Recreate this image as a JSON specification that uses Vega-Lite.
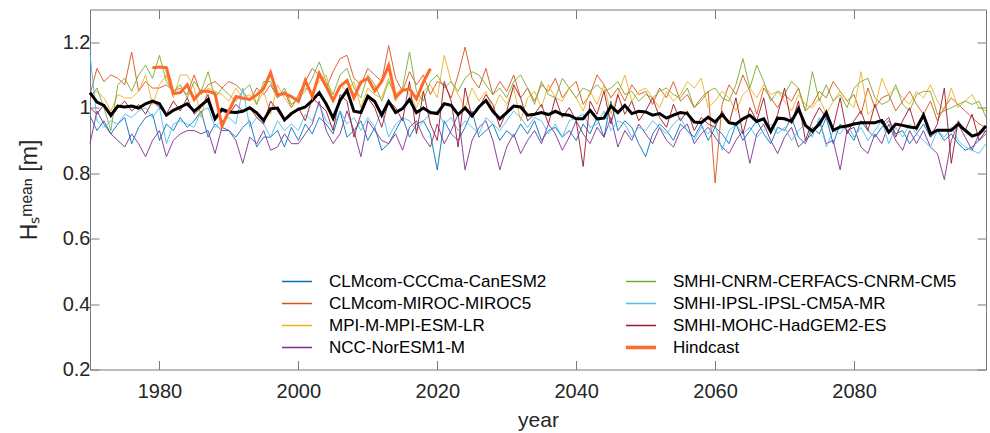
{
  "$schema": "https://vega.github.io/schema/vega-lite/v6.json",
  "width": 896,
  "height": 360,
  "autosize": "none",
  "padding": {"left": 90, "top": 9.5, "right": 4, "bottom": 63.5},
  "background": "white",
  "config": {
    "view": {"stroke": null},
    "font": "Liberation Sans",
    "axis": {"labelFont": "Liberation Sans", "titleFont": "Liberation Sans", "labelColor": "#262626", "titleColor": "#262626", "domainColor": "#7a7a7a", "tickColor": "#7a7a7a", "grid": false, "titleFontWeight": "normal"}
  },
  "data": {"values": [
{"year":1970,"can":0.975,"miroc":1.04,"mpi":1.04,"nor":0.89,"cnrm":1.03,"ipsl":1.165,"mohc":1.00,"mean":1.046},
{"year":1971,"can":0.93,"miroc":1.12,"mpi":1.05,"nor":0.99,"cnrm":1.06,"ipsl":0.96,"mohc":0.98,"mean":1.017},
{"year":1972,"can":0.96,"miroc":1.08,"mpi":1.03,"nor":0.95,"cnrm":1.00,"ipsl":0.94,"mohc":1.01,"mean":1.007},
{"year":1973,"can":0.92,"miroc":1.10,"mpi":0.99,"nor":0.92,"cnrm":0.93,"ipsl":0.96,"mohc":0.97,"mean":0.977},
{"year":1974,"can":0.95,"miroc":1.09,"mpi":1.04,"nor":0.90,"cnrm":1.07,"ipsl":0.95,"mohc":1.00,"mean":1.005},
{"year":1975,"can":0.97,"miroc":1.07,"mpi":1.03,"nor":0.88,"cnrm":1.09,"ipsl":0.98,"mohc":1.02,"mean":1.002},
{"year":1976,"can":0.89,"miroc":1.17,"mpi":1.03,"nor":0.92,"cnrm":1.05,"ipsl":0.97,"mohc":0.99,"mean":1.005},
{"year":1977,"can":0.94,"miroc":1.05,"mpi":1.05,"nor":0.89,"cnrm":1.10,"ipsl":0.99,"mohc":1.01,"mean":0.999},
{"year":1978,"can":0.97,"miroc":1.08,"mpi":1.10,"nor":0.85,"cnrm":1.13,"ipsl":1.00,"mohc":0.98,"mean":1.012},
{"year":1979,"can":0.98,"miroc":1.06,"mpi":1.01,"nor":0.90,"cnrm":1.09,"ipsl":0.97,"mohc":1.02,"mean":1.020,"hind":1.122},
{"year":1980,"can":0.90,"miroc":1.06,"mpi":1.07,"nor":0.93,"cnrm":1.16,"ipsl":1.00,"mohc":1.00,"mean":1.012,"hind":1.124},
{"year":1981,"can":0.95,"miroc":1.07,"mpi":1.10,"nor":0.85,"cnrm":1.08,"ipsl":0.89,"mohc":0.98,"mean":0.977,"hind":1.122},
{"year":1982,"can":0.93,"miroc":1.05,"mpi":1.03,"nor":0.90,"cnrm":1.05,"ipsl":0.95,"mohc":1.02,"mean":0.992,"hind":1.043},
{"year":1983,"can":0.97,"miroc":1.06,"mpi":1.10,"nor":0.92,"cnrm":1.07,"ipsl":0.96,"mohc":0.99,"mean":1.002,"hind":1.046},
{"year":1984,"can":0.94,"miroc":1.04,"mpi":1.10,"nor":0.93,"cnrm":1.03,"ipsl":0.95,"mohc":1.03,"mean":1.012,"hind":1.07},
{"year":1985,"can":0.96,"miroc":1.10,"mpi":1.06,"nor":0.93,"cnrm":1.08,"ipsl":0.94,"mohc":0.98,"mean":0.989,"hind":1.025},
{"year":1986,"can":0.99,"miroc":1.04,"mpi":0.97,"nor":0.92,"cnrm":1.05,"ipsl":0.99,"mohc":1.00,"mean":1.007,"hind":1.05},
{"year":1987,"can":0.91,"miroc":1.07,"mpi":1.06,"nor":0.93,"cnrm":1.11,"ipsl":1.00,"mohc":1.04,"mean":1.025,"hind":1.05},
{"year":1988,"can":0.95,"miroc":1.08,"mpi":1.05,"nor":0.86,"cnrm":1.03,"ipsl":0.94,"mohc":0.97,"mean":0.966,"hind":1.043},
{"year":1989,"can":0.93,"miroc":1.06,"mpi":1.04,"nor":0.94,"cnrm":1.06,"ipsl":0.96,"mohc":0.99,"mean":0.995,"hind":0.944},
{"year":1990,"can":0.93,"miroc":1.08,"mpi":1.02,"nor":0.93,"cnrm":1.04,"ipsl":0.97,"mohc":0.98,"mean":0.987,"hind":0.99},
{"year":1991,"can":0.91,"miroc":1.07,"mpi":1.06,"nor":0.90,"cnrm":1.02,"ipsl":0.95,"mohc":1.01,"mean":0.985,"hind":1.034},
{"year":1992,"can":0.94,"miroc":1.05,"mpi":1.03,"nor":0.83,"cnrm":1.05,"ipsl":1.06,"mohc":0.99,"mean":0.989,"hind":1.029},
{"year":1993,"can":0.96,"miroc":1.02,"mpi":1.04,"nor":0.91,"cnrm":1.07,"ipsl":0.94,"mohc":1.00,"mean":1.000,"hind":1.025},
{"year":1994,"can":0.88,"miroc":1.06,"mpi":1.01,"nor":0.89,"cnrm":1.01,"ipsl":0.97,"mohc":0.97,"mean":0.984,"hind":1.039},
{"year":1995,"can":0.91,"miroc":1.04,"mpi":1.05,"nor":0.93,"cnrm":1.08,"ipsl":0.95,"mohc":0.95,"mean":0.961,"hind":1.058},
{"year":1996,"can":0.91,"miroc":1.07,"mpi":0.98,"nor":0.87,"cnrm":1.08,"ipsl":0.91,"mohc":1.02,"mean":0.997,"hind":1.107},
{"year":1997,"can":0.93,"miroc":1.03,"mpi":1.07,"nor":0.88,"cnrm":1.03,"ipsl":0.96,"mohc":0.99,"mean":0.999,"hind":1.039},
{"year":1998,"can":0.88,"miroc":1.05,"mpi":1.03,"nor":0.92,"cnrm":1.06,"ipsl":0.93,"mohc":0.96,"mean":0.963,"hind":1.043},
{"year":1999,"can":0.94,"miroc":1.00,"mpi":1.00,"nor":0.89,"cnrm":1.01,"ipsl":0.95,"mohc":0.98,"mean":0.982,"hind":1.034},
{"year":2000,"can":0.90,"miroc":1.04,"mpi":1.03,"nor":0.89,"cnrm":1.03,"ipsl":0.93,"mohc":1.00,"mean":0.995,"hind":1.019},
{"year":2001,"can":0.95,"miroc":1.08,"mpi":1.06,"nor":0.92,"cnrm":1.05,"ipsl":0.98,"mohc":0.96,"mean":1.002,"hind":1.083},
{"year":2002,"can":0.92,"miroc":1.12,"mpi":1.05,"nor":0.95,"cnrm":1.09,"ipsl":0.96,"mohc":1.03,"mean":1.022,"hind":1.034},
{"year":2003,"can":0.97,"miroc":1.10,"mpi":1.08,"nor":1.02,"cnrm":1.14,"ipsl":1.01,"mohc":1.01,"mean":1.046,"hind":1.105},
{"year":2004,"can":0.95,"miroc":1.06,"mpi":1.10,"nor":0.93,"cnrm":1.08,"ipsl":0.96,"mohc":0.99,"mean":1.012,"hind":1.065},
{"year":2005,"can":0.92,"miroc":1.11,"mpi":1.02,"nor":0.89,"cnrm":1.04,"ipsl":0.94,"mohc":0.93,"mean":0.968,"hind":1.022},
{"year":2006,"can":0.99,"miroc":1.15,"mpi":1.07,"nor":0.92,"cnrm":1.10,"ipsl":0.99,"mohc":1.04,"mean":1.022,"hind":1.065},
{"year":2007,"can":0.91,"miroc":1.16,"mpi":1.05,"nor":0.99,"cnrm":1.12,"ipsl":0.95,"mohc":1.02,"mean":1.053,"hind":1.083},
{"year":2008,"can":0.93,"miroc":1.09,"mpi":1.08,"nor":0.93,"cnrm":1.06,"ipsl":0.97,"mohc":0.91,"mean":0.989,"hind":1.03},
{"year":2009,"can":0.96,"miroc":1.07,"mpi":1.00,"nor":0.85,"cnrm":1.03,"ipsl":0.93,"mohc":0.98,"mean":0.985,"hind":1.078},
{"year":2010,"can":0.90,"miroc":1.12,"mpi":1.06,"nor":0.96,"cnrm":1.10,"ipsl":0.97,"mohc":1.03,"mean":1.035,"hind":1.09},
{"year":2011,"can":0.94,"miroc":1.10,"mpi":1.04,"nor":0.93,"cnrm":1.07,"ipsl":0.94,"mohc":1.00,"mean":1.019,"hind":1.051},
{"year":2012,"can":0.87,"miroc":1.08,"mpi":1.03,"nor":0.90,"cnrm":1.02,"ipsl":0.99,"mohc":0.94,"mean":0.977,"hind":1.08},
{"year":2013,"can":0.89,"miroc":1.19,"mpi":1.09,"nor":0.89,"cnrm":1.08,"ipsl":0.91,"mohc":1.02,"mean":1.019,"hind":1.129},
{"year":2014,"can":0.93,"miroc":1.09,"mpi":1.02,"nor":0.92,"cnrm":1.04,"ipsl":0.95,"mohc":1.00,"mean":0.985,"hind":1.032},
{"year":2015,"can":0.97,"miroc":1.05,"mpi":1.06,"nor":0.87,"cnrm":1.06,"ipsl":0.97,"mohc":0.96,"mean":0.997,"hind":1.053},
{"year":2016,"can":0.91,"miroc":1.11,"mpi":1.04,"nor":0.94,"cnrm":1.17,"ipsl":0.96,"mohc":1.08,"mean":1.025,"hind":1.058},
{"year":2017,"can":0.95,"miroc":1.07,"mpi":1.00,"nor":0.96,"cnrm":1.05,"ipsl":0.93,"mohc":0.92,"mean":0.985,"hind":1.027},
{"year":2018,"can":0.96,"miroc":1.10,"mpi":1.05,"nor":0.91,"cnrm":1.02,"ipsl":0.96,"mohc":1.05,"mean":0.999,"hind":1.078},
{"year":2019,"can":0.92,"miroc":1.04,"mpi":1.07,"nor":0.88,"cnrm":1.08,"ipsl":0.98,"mohc":0.95,"mean":0.985,"hind":1.119},
{"year":2020,"can":0.81,"miroc":1.08,"mpi":1.03,"nor":0.95,"cnrm":1.10,"ipsl":0.99,"mohc":0.90,"mean":0.982},
{"year":2021,"can":0.96,"miroc":1.07,"mpi":1.16,"nor":0.89,"cnrm":1.06,"ipsl":0.95,"mohc":1.08,"mean":1.012},
{"year":2022,"can":0.92,"miroc":1.03,"mpi":1.08,"nor":0.93,"cnrm":1.08,"ipsl":0.97,"mohc":1.02,"mean":1.007},
{"year":2023,"can":0.90,"miroc":1.10,"mpi":1.04,"nor":0.98,"cnrm":1.05,"ipsl":0.93,"mohc":0.88,"mean":0.979},
{"year":2024,"can":0.94,"miroc":1.185,"mpi":1.00,"nor":0.81,"cnrm":1.09,"ipsl":0.96,"mohc":1.06,"mean":0.999},
{"year":2025,"can":0.99,"miroc":1.09,"mpi":1.06,"nor":0.90,"cnrm":1.11,"ipsl":0.94,"mohc":0.97,"mean":0.975},
{"year":2026,"can":0.91,"miroc":1.06,"mpi":1.02,"nor":0.94,"cnrm":1.10,"ipsl":0.92,"mohc":1.00,"mean":1.002},
{"year":2027,"can":0.93,"miroc":1.12,"mpi":1.05,"nor":0.96,"cnrm":1.07,"ipsl":0.97,"mohc":1.04,"mean":1.022},
{"year":2028,"can":0.95,"miroc":1.04,"mpi":0.99,"nor":0.90,"cnrm":1.04,"ipsl":0.95,"mohc":1.01,"mean":0.989},
{"year":2029,"can":0.90,"miroc":1.08,"mpi":1.04,"nor":0.81,"cnrm":1.06,"ipsl":0.93,"mohc":0.94,"mean":0.966},
{"year":2030,"can":0.93,"miroc":1.05,"mpi":1.01,"nor":0.88,"cnrm":1.03,"ipsl":0.96,"mohc":0.99,"mean":0.985},
{"year":2031,"can":0.91,"miroc":1.10,"mpi":1.06,"nor":0.92,"cnrm":1.08,"ipsl":0.99,"mohc":1.07,"mean":1.005},
{"year":2032,"can":0.95,"miroc":1.03,"mpi":0.96,"nor":0.86,"cnrm":1.10,"ipsl":0.97,"mohc":1.03,"mean":1.002},
{"year":2033,"can":0.92,"miroc":1.06,"mpi":1.03,"nor":0.90,"cnrm":1.06,"ipsl":0.94,"mohc":0.96,"mean":0.977},
{"year":2034,"can":0.96,"miroc":1.02,"mpi":1.05,"nor":0.93,"cnrm":1.01,"ipsl":0.97,"mohc":0.98,"mean":0.980},
{"year":2035,"can":0.90,"miroc":1.07,"mpi":1.00,"nor":0.89,"cnrm":1.08,"ipsl":0.96,"mohc":1.01,"mean":0.985},
{"year":2036,"can":0.93,"miroc":1.05,"mpi":1.07,"nor":0.95,"cnrm":1.04,"ipsl":0.92,"mohc":0.95,"mean":0.979},
{"year":2037,"can":0.94,"miroc":1.09,"mpi":1.03,"nor":0.92,"cnrm":1.03,"ipsl":0.95,"mohc":1.03,"mean":0.989},
{"year":2038,"can":0.91,"miroc":1.03,"mpi":1.02,"nor":0.87,"cnrm":1.09,"ipsl":0.91,"mohc":0.97,"mean":0.979},
{"year":2039,"can":0.93,"miroc":1.06,"mpi":1.06,"nor":0.91,"cnrm":1.06,"ipsl":0.96,"mohc":1.00,"mean":0.977},
{"year":2040,"can":0.90,"miroc":1.08,"mpi":1.03,"nor":0.96,"cnrm":1.03,"ipsl":0.97,"mohc":0.96,"mean":0.966},
{"year":2041,"can":0.95,"miroc":1.01,"mpi":0.99,"nor":0.92,"cnrm":1.06,"ipsl":0.98,"mohc":0.82,"mean":0.966},
{"year":2042,"can":0.92,"miroc":1.04,"mpi":1.05,"nor":0.89,"cnrm":1.05,"ipsl":0.94,"mohc":1.02,"mean":0.992},
{"year":2043,"can":0.97,"miroc":1.10,"mpi":1.01,"nor":0.94,"cnrm":1.07,"ipsl":0.95,"mohc":0.98,"mean":0.966},
{"year":2044,"can":0.91,"miroc":1.07,"mpi":1.07,"nor":0.91,"cnrm":1.05,"ipsl":0.99,"mohc":1.05,"mean":0.968},
{"year":2045,"can":1.02,"miroc":1.03,"mpi":0.98,"nor":0.97,"cnrm":1.06,"ipsl":0.93,"mohc":0.95,"mean":1.005},
{"year":2046,"can":0.93,"miroc":1.06,"mpi":1.04,"nor":0.88,"cnrm":1.08,"ipsl":0.96,"mohc":1.04,"mean":0.985},
{"year":2047,"can":0.96,"miroc":1.02,"mpi":1.10,"nor":0.93,"cnrm":1.04,"ipsl":0.95,"mohc":0.98,"mean":1.007},
{"year":2048,"can":0.94,"miroc":1.07,"mpi":1.02,"nor":0.90,"cnrm":1.05,"ipsl":0.91,"mohc":1.02,"mean":0.982},
{"year":2049,"can":0.89,"miroc":1.04,"mpi":1.05,"nor":0.95,"cnrm":1.02,"ipsl":0.94,"mohc":0.96,"mean":0.989},
{"year":2050,"can":0.85,"miroc":1.05,"mpi":1.06,"nor":0.92,"cnrm":1.04,"ipsl":0.93,"mohc":0.99,"mean":0.987},
{"year":2051,"can":0.92,"miroc":1.01,"mpi":1.03,"nor":0.89,"cnrm":1.03,"ipsl":0.96,"mohc":1.03,"mean":0.977},
{"year":2052,"can":0.95,"miroc":1.06,"mpi":1.00,"nor":0.94,"cnrm":1.05,"ipsl":0.94,"mohc":0.97,"mean":0.982},
{"year":2053,"can":0.93,"miroc":1.03,"mpi":1.05,"nor":0.90,"cnrm":1.06,"ipsl":0.92,"mohc":0.94,"mean":0.968},
{"year":2054,"can":0.90,"miroc":1.08,"mpi":1.02,"nor":0.88,"cnrm":1.04,"ipsl":0.95,"mohc":1.01,"mean":0.977},
{"year":2055,"can":0.95,"miroc":1.02,"mpi":1.04,"nor":0.93,"cnrm":1.03,"ipsl":0.97,"mohc":0.96,"mean":0.985},
{"year":2056,"can":0.93,"miroc":1.04,"mpi":1.08,"nor":0.95,"cnrm":1.06,"ipsl":0.93,"mohc":0.99,"mean":0.982},
{"year":2057,"can":0.91,"miroc":1.00,"mpi":1.06,"nor":0.89,"cnrm":1.00,"ipsl":0.90,"mohc":0.93,"mean":0.956},
{"year":2058,"can":0.95,"miroc":1.03,"mpi":1.09,"nor":0.92,"cnrm":1.02,"ipsl":0.94,"mohc":0.97,"mean":0.954},
{"year":2059,"can":0.90,"miroc":1.05,"mpi":1.00,"nor":0.94,"cnrm":1.05,"ipsl":0.92,"mohc":0.95,"mean":0.971},
{"year":2060,"can":0.94,"miroc":0.77,"mpi":1.02,"nor":0.91,"cnrm":1.06,"ipsl":0.95,"mohc":0.94,"mean":0.956},
{"year":2061,"can":0.92,"miroc":1.01,"mpi":1.05,"nor":0.88,"cnrm":1.03,"ipsl":0.87,"mohc":0.99,"mean":0.979},
{"year":2062,"can":0.89,"miroc":1.07,"mpi":1.03,"nor":0.86,"cnrm":1.02,"ipsl":0.93,"mohc":0.95,"mean":0.954},
{"year":2063,"can":0.95,"miroc":1.04,"mpi":0.99,"nor":0.90,"cnrm":1.07,"ipsl":0.95,"mohc":1.03,"mean":0.950},
{"year":2064,"can":0.90,"miroc":1.10,"mpi":1.04,"nor":0.93,"cnrm":1.15,"ipsl":0.92,"mohc":0.92,"mean":0.966},
{"year":2065,"can":0.93,"miroc":1.05,"mpi":1.06,"nor":0.83,"cnrm":1.06,"ipsl":0.94,"mohc":1.00,"mean":0.977},
{"year":2066,"can":0.96,"miroc":0.98,"mpi":1.03,"nor":0.92,"cnrm":1.13,"ipsl":0.91,"mohc":0.96,"mean":0.958},
{"year":2067,"can":0.92,"miroc":1.06,"mpi":1.07,"nor":0.95,"cnrm":1.08,"ipsl":0.93,"mohc":1.03,"mean":0.966},
{"year":2068,"can":0.89,"miroc":1.03,"mpi":1.04,"nor":0.90,"cnrm":1.02,"ipsl":0.95,"mohc":0.92,"mean":0.928},
{"year":2069,"can":0.94,"miroc":1.00,"mpi":1.05,"nor":0.86,"cnrm":1.05,"ipsl":0.92,"mohc":0.98,"mean":0.968},
{"year":2070,"can":0.93,"miroc":1.04,"mpi":1.02,"nor":0.91,"cnrm":1.04,"ipsl":0.94,"mohc":1.06,"mean":0.966},
{"year":2071,"can":0.97,"miroc":1.02,"mpi":0.99,"nor":0.94,"cnrm":1.08,"ipsl":0.90,"mohc":0.95,"mean":0.958},
{"year":2072,"can":0.91,"miroc":1.06,"mpi":1.04,"nor":0.88,"cnrm":1.06,"ipsl":0.93,"mohc":1.02,"mean":0.997},
{"year":2073,"can":0.89,"miroc":0.99,"mpi":1.01,"nor":0.90,"cnrm":0.99,"ipsl":0.95,"mohc":0.90,"mean":0.946},
{"year":2074,"can":0.94,"miroc":1.01,"mpi":1.00,"nor":0.92,"cnrm":1.11,"ipsl":0.91,"mohc":0.96,"mean":0.928},
{"year":2075,"can":0.92,"miroc":1.05,"mpi":1.03,"nor":0.96,"cnrm":1.02,"ipsl":0.97,"mohc":1.00,"mean":0.950},
{"year":2076,"can":0.97,"miroc":1.03,"mpi":0.98,"nor":0.89,"cnrm":1.07,"ipsl":0.88,"mohc":0.97,"mean":0.985},
{"year":2077,"can":0.89,"miroc":1.08,"mpi":1.02,"nor":0.90,"cnrm":1.02,"ipsl":0.93,"mohc":0.94,"mean":0.931},
{"year":2078,"can":0.95,"miroc":1.05,"mpi":1.05,"nor":0.81,"cnrm":1.04,"ipsl":0.92,"mohc":1.03,"mean":0.941},
{"year":2079,"can":0.93,"miroc":1.02,"mpi":1.02,"nor":0.93,"cnrm":1.00,"ipsl":0.95,"mohc":0.92,"mean":0.944},
{"year":2080,"can":0.90,"miroc":1.04,"mpi":1.00,"nor":0.94,"cnrm":1.06,"ipsl":0.91,"mohc":0.96,"mean":0.950},
{"year":2081,"can":0.96,"miroc":0.98,"mpi":1.11,"nor":0.88,"cnrm":1.08,"ipsl":0.94,"mohc":0.99,"mean":0.954},
{"year":2082,"can":0.93,"miroc":1.06,"mpi":0.98,"nor":0.86,"cnrm":1.09,"ipsl":0.90,"mohc":0.93,"mean":0.954},
{"year":2083,"can":0.91,"miroc":1.00,"mpi":1.00,"nor":0.92,"cnrm":1.03,"ipsl":0.93,"mohc":1.01,"mean":0.954},
{"year":2084,"can":0.94,"miroc":1.03,"mpi":1.09,"nor":0.89,"cnrm":1.01,"ipsl":0.96,"mohc":0.95,"mean":0.961},
{"year":2085,"can":0.96,"miroc":1.04,"mpi":1.04,"nor":0.95,"cnrm":1.02,"ipsl":0.89,"mohc":0.97,"mean":0.925},
{"year":2086,"can":0.92,"miroc":0.99,"mpi":1.06,"nor":0.90,"cnrm":1.07,"ipsl":0.94,"mohc":0.91,"mean":0.950},
{"year":2087,"can":0.93,"miroc":1.02,"mpi":1.03,"nor":0.87,"cnrm":1.01,"ipsl":0.91,"mohc":0.96,"mean":0.946},
{"year":2088,"can":0.89,"miroc":1.05,"mpi":1.01,"nor":0.93,"cnrm":0.99,"ipsl":0.95,"mohc":1.00,"mean":0.941},
{"year":2089,"can":0.92,"miroc":1.01,"mpi":1.05,"nor":0.89,"cnrm":1.04,"ipsl":0.92,"mohc":0.93,"mean":0.938},
{"year":2090,"can":0.95,"miroc":0.98,"mpi":1.03,"nor":0.93,"cnrm":1.05,"ipsl":0.90,"mohc":0.98,"mean":0.977},
{"year":2091,"can":0.91,"miroc":1.02,"mpi":1.07,"nor":0.88,"cnrm":1.05,"ipsl":0.88,"mohc":0.91,"mean":0.920},
{"year":2092,"can":0.93,"miroc":0.96,"mpi":1.02,"nor":0.86,"cnrm":0.98,"ipsl":0.93,"mohc":0.95,"mean":0.931},
{"year":2093,"can":0.90,"miroc":1.00,"mpi":0.99,"nor":0.78,"cnrm":0.99,"ipsl":0.91,"mohc":1.06,"mean":0.931},
{"year":2094,"can":0.92,"miroc":1.03,"mpi":1.06,"nor":0.90,"cnrm":1.00,"ipsl":0.94,"mohc":0.83,"mean":0.931},
{"year":2095,"can":0.89,"miroc":1.01,"mpi":1.00,"nor":0.95,"cnrm":1.01,"ipsl":0.90,"mohc":0.96,"mean":0.950},
{"year":2096,"can":0.87,"miroc":0.99,"mpi":1.02,"nor":0.91,"cnrm":1.02,"ipsl":0.88,"mohc":0.93,"mean":0.931},
{"year":2097,"can":0.88,"miroc":0.97,"mpi":1.04,"nor":0.87,"cnrm":1.01,"ipsl":0.87,"mohc":0.98,"mean":0.913},
{"year":2098,"can":0.90,"miroc":0.95,"mpi":1.00,"nor":0.92,"cnrm":1.02,"ipsl":0.86,"mohc":0.90,"mean":0.920},
{"year":2099,"can":0.92,"miroc":0.94,"mpi":0.99,"nor":0.93,"cnrm":0.97,"ipsl":0.89,"mohc":0.93,"mean":0.944}
  ]},
  "layer": [
    {
      "transform": [
        {"fold": ["can", "miroc", "mpi", "nor", "cnrm", "ipsl", "mohc", "hind"], "as": ["model", "Hs"]},
        {"filter": "isValid(datum.Hs)"}
      ],
      "mark": {"type": "line", "opacity": 0.9, "strokeWidth": 1},
      "encoding": {
        "x": {"field": "year", "type": "quantitative", "scale": {"domain": [1970, 2099], "nice": false, "zero": false},
              "axis": {"orient": "bottom", "values": [1980, 2000, 2020, 2040, 2060, 2080], "format": "d", "labelFontSize": 20, "tickSize": -9, "labelPadding": 21, "title": "year", "titleFontSize": 21, "titlePadding": 8, "labelFlush": false}},
        "y": {"field": "Hs", "type": "quantitative", "scale": {"domain": [0.2, 1.3], "nice": false, "zero": false},
              "axis": {"orient": "left", "values": [0.2, 0.4, 0.6, 0.8, 1, 1.2], "format": "~g", "labelFontSize": 20, "tickSize": -9, "labelPadding": 9, "title": "Hₛᵐᵉᵃⁿ [m]", "titleFontSize": 23, "titlePadding": 21, "labelFlush": false}},
        "color": {"field": "model", "type": "nominal",
                  "scale": {"domain": ["can", "miroc", "mpi", "nor", "cnrm", "ipsl", "mohc", "hind"],
                            "range": ["#0072BD", "#D95319", "#EDB120", "#7E2F8E", "#77AC30", "#4DBEEE", "#A2142F", "#FF6929"]},
                  "legend": {"orient": "none", "legendX": 192, "legendY": 262, "columns": 2, "columnPadding": 79, "rowPadding": 2, "clipHeight": 20, "title": null,
                             "symbolType": "stroke", "symbolSize": 1850, "symbolStrokeWidth": {"expr": "datum.value === 'hind' ? 3.5 : 1.4"}, "symbolOpacity": 1,
                             "labelFont": "Liberation Sans", "labelFontSize": 17, "labelColor": "#000000", "labelOffset": 30, "labelLimit": 400, "padding": 0,
                             "labelExpr": "{'can':'CLMcom-CCCma-CanESM2','cnrm':'SMHI-CNRM-CERFACS-CNRM-CM5','miroc':'CLMcom-MIROC-MIROC5','ipsl':'SMHI-IPSL-IPSL-CM5A-MR','mpi':'MPI-M-MPI-ESM-LR','mohc':'SMHI-MOHC-HadGEM2-ES','nor':'NCC-NorESM1-M','hind':'Hindcast'}[datum.label]"}}
      }
    },
    {
      "mark": {"type": "line", "color": "#000000", "strokeWidth": 3},
      "encoding": {
        "x": {"field": "year", "type": "quantitative", "axis": {"orient": "top", "values": [1980, 2000, 2020, 2040, 2060, 2080], "labels": false, "tickSize": -9, "title": null}},
        "y": {"field": "mean", "type": "quantitative", "axis": {"orient": "right", "values": [0.2, 0.4, 0.6, 0.8, 1, 1.2], "labels": false, "tickSize": -9, "title": null}}
      }
    },
    {
      "transform": [{"filter": "isValid(datum.hind)"}],
      "mark": {"type": "line", "color": "#FF6929", "strokeWidth": 3},
      "encoding": {
        "x": {"field": "year", "type": "quantitative", "axis": null},
        "y": {"field": "hind", "type": "quantitative", "axis": null}
      }
    }
  ],
  "resolve": {"axis": {"x": "independent", "y": "independent"}}
}
